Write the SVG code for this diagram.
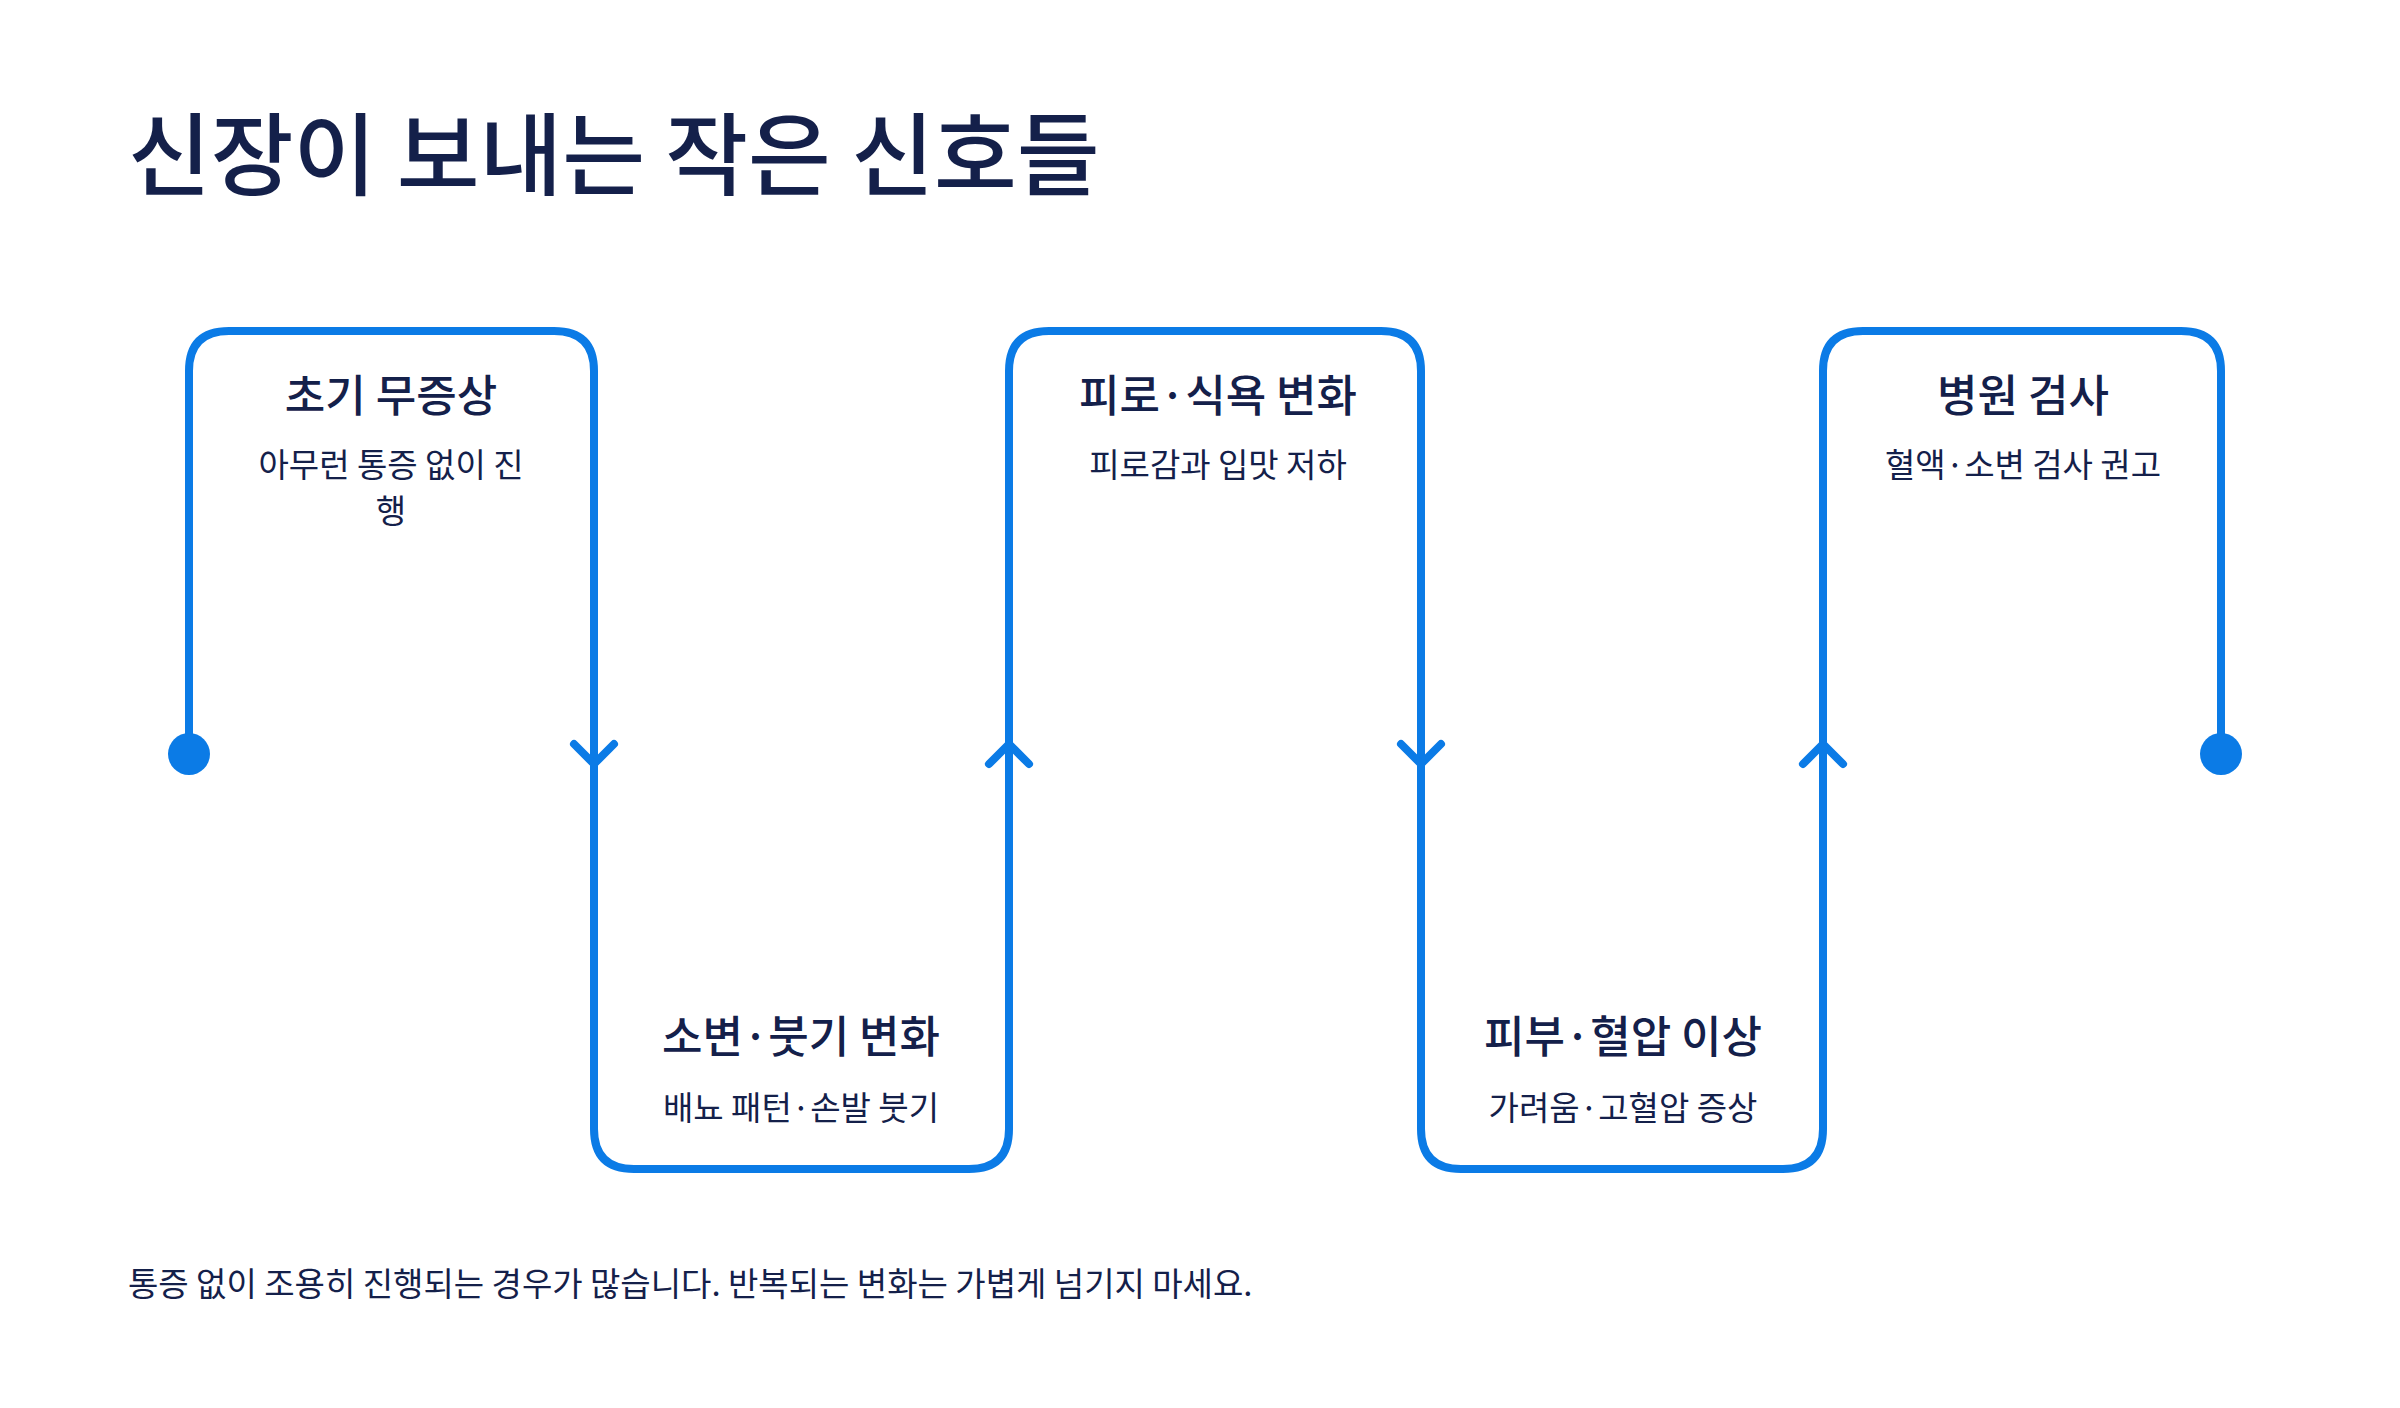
<svg xmlns="http://www.w3.org/2000/svg" width="2400" height="1408" viewBox="0 0 2400 1408">
<style>
text{font-family:"Noto Sans CJK KR","Noto Sans",sans-serif;fill:#14204a}
.t{font-size:44px;font-weight:500;text-anchor:middle}
.s{font-size:33px;text-anchor:middle}
.ln{fill:none;stroke:#0b7be6;stroke-width:8;stroke-linecap:round;stroke-linejoin:round}
</style>
<rect width="2400" height="1408" fill="#fff"/>
<text x="128" y="188" font-size="90" font-weight="500">신장이 보내는 작은 신호들</text>
<g id="connectors">
<path class="ln" d="M189 754 V371 Q189 331 229 331 H554 Q594 331 594 371 V1129 Q594 1169 634 1169 H969 Q1009 1169 1009 1129 V371 Q1009 331 1049 331 H1381 Q1421 331 1421 371 V1129 Q1421 1169 1461 1169 H1783 Q1823 1169 1823 1129 V371 Q1823 331 1863 331 H2181 Q2221 331 2221 371 V754"/>
<path class="ln" d="M574 744 L594 764 L614 744"/>
<path class="ln" d="M989 764 L1009 744 L1029 764"/>
<path class="ln" d="M1401 744 L1421 764 L1441 744"/>
<path class="ln" d="M1803 764 L1823 744 L1843 764"/>
<circle cx="189" cy="754" r="21" fill="#0b7be6"/>
<circle cx="2221" cy="754" r="21" fill="#0b7be6"/>
</g>
<g id="n1"><text class="t" x="391" y="412">초기 무증상</text><text class="s" x="391" y="477">아무런 통증 없이 진</text><text class="s" x="391" y="523">행</text></g>
<g id="n2"><text class="t" x="801" y="1053">소변·붓기 변화</text><text class="s" x="801" y="1120">배뇨 패턴·손발 붓기</text></g>
<g id="n3"><text class="t" x="1218" y="412">피로·식욕 변화</text><text class="s" x="1218" y="477">피로감과 입맛 저하</text></g>
<g id="n4"><text class="t" x="1623" y="1053">피부·혈압 이상</text><text class="s" x="1623" y="1120">가려움·고혈압 증상</text></g>
<g id="n5"><text class="t" x="2023" y="412">병원 검사</text><text class="s" x="2023" y="477">혈액·소변 검사 권고</text></g>
<text x="128" y="1296" font-size="33">통증 없이 조용히 진행되는 경우가 많습니다. 반복되는 변화는 가볍게 넘기지 마세요.</text>
</svg>
